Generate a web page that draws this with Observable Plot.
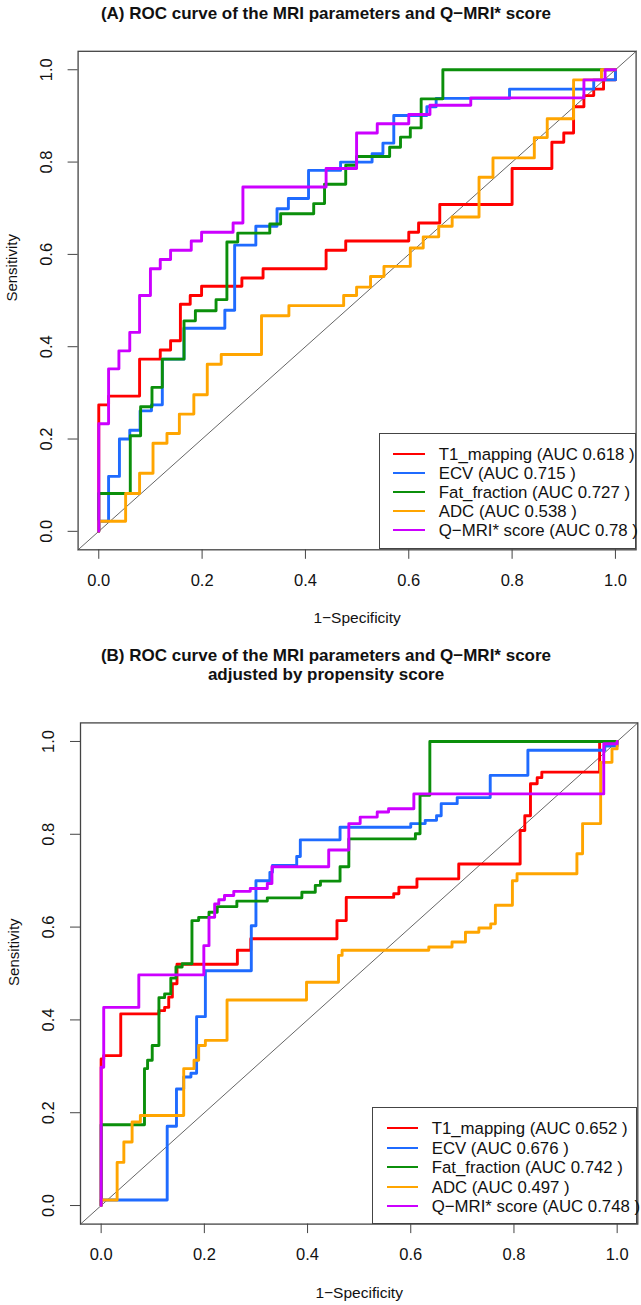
<!DOCTYPE html>
<html><head><meta charset="utf-8">
<script src="https://cdn.jsdelivr.net/npm/d3@7"></script>
<script src="https://cdn.jsdelivr.net/npm/@observablehq/plot@0.6"></script>
<style>
body{margin:0;background:#fff;font-family:"Liberation Sans",Arial,Helvetica,sans-serif;}
#page{position:relative;width:641px;height:1305px;overflow:hidden;background:#fff;}
.title{position:absolute;left:0;width:652px;text-align:center;font-weight:bold;font-size:17px;line-height:19px;color:#111;}
.panel{position:absolute;left:0;}
.legend{position:absolute;box-sizing:border-box;border:1.3px solid #444;background:#fff;font-size:16.8px;color:#111;}
.legend .row{position:absolute;left:0;height:19px;line-height:19px;white-space:nowrap;}
.legend .sw{position:absolute;top:8px;height:0;border-top:2.7px solid;}
.legend .tx{position:absolute;top:0;}
</style></head><body><div id="page"></div>
<script>
// ---------- data ----------
const seriesNames = ["T1_mapping", "ECV", "Fat_fraction", "ADC", "Q\u2212MRI* score"];
const seriesColors = ["#ff0000", "#1f6bff", "#0b8f0b", "#ffa500", "#cc00ff"];
const aucA = ["0.618", "0.715", "0.727", "0.538", "0.78"];
const aucB = ["0.652", "0.676", "0.742", "0.497", "0.748"];
const axisTicks = [0, 0.2, 0.4, 0.6, 0.8, 1.0];
const titleA = "(A) ROC curve of the MRI parameters and Q\u2212MRI* score";
const titleB1 = "(B) ROC curve of the MRI parameters and Q\u2212MRI* score";
const titleB2 = "adjusted by propensity score";
const xLabel = "1\u2212Specificity";
const yLabel = "Sensitivity";

// Panel A: (1-specificity, sensitivity) at the end of each step
const a_t1_x  = [0, 0.019, 0.079, 0.119, 0.139, 0.158, 0.177, 0.199, 0.277, 0.318, 0.44, 0.478, 0.6, 0.619, 0.66, 0.8, 0.877, 0.9, 0.919, 0.939, 0.958, 0.977, 1, 1];
const a_t1_y  = [0, 0.274, 0.293, 0.373, 0.393, 0.413, 0.492, 0.511, 0.531, 0.549, 0.569, 0.609, 0.629, 0.648, 0.668, 0.708, 0.786, 0.843, 0.863, 0.92, 0.944, 0.958, 0.978, 1];
const a_ecv_x = [0, 0.019, 0.04, 0.06, 0.08, 0.102, 0.123, 0.165, 0.244, 0.263, 0.304, 0.345, 0.367, 0.406, 0.468, 0.529, 0.55, 0.571, 0.635, 0.653, 0.795, 0.958, 1, 1];
const a_ecv_y = [0, 0.022, 0.119, 0.2, 0.219, 0.261, 0.274, 0.373, 0.44, 0.479, 0.62, 0.661, 0.699, 0.721, 0.782, 0.8, 0.818, 0.841, 0.901, 0.92, 0.938, 0.958, 0.978, 1];
const a_fat_x = [0, 0.061, 0.081, 0.103, 0.123, 0.165, 0.187, 0.227, 0.248, 0.269, 0.331, 0.352, 0.416, 0.437, 0.478, 0.499, 0.563, 0.584, 0.603, 0.624, 0.666, 1];
const a_fat_y = [0, 0.082, 0.207, 0.27, 0.312, 0.373, 0.456, 0.478, 0.502, 0.627, 0.646, 0.666, 0.688, 0.71, 0.752, 0.793, 0.812, 0.832, 0.854, 0.874, 0.937, 1];
const a_adc_x = [0, 0.052, 0.079, 0.105, 0.132, 0.156, 0.184, 0.21, 0.237, 0.315, 0.368, 0.474, 0.499, 0.526, 0.552, 0.603, 0.628, 0.658, 0.684, 0.736, 0.763, 0.843, 0.868, 0.919, 0.973, 1];
const a_adc_y = [0, 0.022, 0.082, 0.126, 0.191, 0.212, 0.254, 0.296, 0.362, 0.383, 0.467, 0.489, 0.511, 0.529, 0.552, 0.574, 0.614, 0.638, 0.661, 0.681, 0.767, 0.809, 0.853, 0.894, 0.978, 1];
const a_q_x   = [0, 0.019, 0.039, 0.06, 0.079, 0.1, 0.119, 0.139, 0.179, 0.199, 0.26, 0.279, 0.44, 0.499, 0.539, 0.6, 0.641, 0.72, 0.939, 0.98, 1];
const a_q_y   = [0, 0.233, 0.352, 0.391, 0.431, 0.511, 0.569, 0.589, 0.609, 0.629, 0.648, 0.668, 0.746, 0.786, 0.863, 0.883, 0.903, 0.923, 0.939, 0.978, 1];

// Panel B (propensity-adjusted)
const b_t1_x  = [0, 0.005, 0.038, 0.112, 0.123, 0.131, 0.138, 0.147, 0.264, 0.29, 0.457, 0.475, 0.567, 0.577, 0.612, 0.693, 0.812, 0.821, 0.832, 0.845, 0.854, 0.966, 1];
const b_t1_y  = [0, 0.316, 0.323, 0.413, 0.42, 0.427, 0.449, 0.478, 0.52, 0.55, 0.575, 0.614, 0.664, 0.672, 0.686, 0.704, 0.736, 0.808, 0.84, 0.909, 0.922, 0.934, 1];
const b_ecv_x = [0, 0.128, 0.146, 0.16, 0.174, 0.185, 0.202, 0.291, 0.3, 0.327, 0.332, 0.379, 0.386, 0.463, 0.6, 0.628, 0.65, 0.659, 0.69, 0.754, 0.827, 0.976, 1, 1];
const b_ecv_y = [0, 0.012, 0.171, 0.251, 0.277, 0.285, 0.407, 0.506, 0.603, 0.7, 0.718, 0.733, 0.752, 0.788, 0.815, 0.823, 0.83, 0.84, 0.866, 0.879, 0.927, 0.981, 0.99, 1];
const b_fat_x = [0, 0.084, 0.09, 0.099, 0.112, 0.123, 0.135, 0.145, 0.157, 0.176, 0.189, 0.209, 0.225, 0.263, 0.322, 0.389, 0.415, 0.425, 0.463, 0.48, 0.609, 0.618, 0.637, 1];
const b_fat_y = [0, 0.174, 0.295, 0.313, 0.345, 0.448, 0.456, 0.49, 0.514, 0.521, 0.614, 0.621, 0.632, 0.644, 0.656, 0.663, 0.675, 0.69, 0.699, 0.73, 0.79, 0.801, 0.884, 1];
const b_adc_x = [0, 0.031, 0.044, 0.06, 0.076, 0.16, 0.18, 0.189, 0.202, 0.244, 0.398, 0.46, 0.467, 0.635, 0.68, 0.706, 0.732, 0.755, 0.764, 0.797, 0.806, 0.922, 0.933, 0.968, 0.99, 1, 1];
const b_adc_y = [0, 0.012, 0.093, 0.137, 0.18, 0.194, 0.295, 0.313, 0.345, 0.356, 0.443, 0.481, 0.539, 0.55, 0.557, 0.568, 0.589, 0.598, 0.607, 0.647, 0.7, 0.715, 0.758, 0.823, 0.955, 0.984, 1];
const b_q_x   = [0, 0.005, 0.073, 0.199, 0.209, 0.22, 0.228, 0.239, 0.257, 0.289, 0.322, 0.331, 0.441, 0.48, 0.502, 0.535, 0.557, 0.606, 0.974, 1, 1];
const b_q_y   = [0, 0.298, 0.427, 0.497, 0.56, 0.621, 0.65, 0.659, 0.668, 0.677, 0.683, 0.694, 0.73, 0.766, 0.823, 0.837, 0.848, 0.855, 0.887, 0.995, 1];

// ---------- drawing ----------
const page = document.getElementById("page");
const fmt = d3.format(".1f");
const domain = [-0.04, 1.04];

function rows(xs, ys) { return xs.map((x, i) => ({x, y: ys[i]})); }

function panel(curves, o) {
  const svg = Plot.plot({
    width: 641, height: o.height,
    marginTop: o.mt, marginBottom: o.mb, marginLeft: o.ml, marginRight: o.mr,
    style: {fontFamily: "'Liberation Sans', Arial, sans-serif", background: "transparent", overflow: "visible", color: "#111"},
    x: {domain},
    y: {domain},
    marks: [
      Plot.line(domain.map(v => ({x: v, y: v})), {x: "x", y: "y", stroke: "#666", strokeWidth: 1}),
      ...curves.map((c, i) => Plot.line(rows(c[0], c[1]), {x: "x", y: "y", curve: "step-before", stroke: seriesColors[i], strokeWidth: 2.9})),
      Plot.frame({stroke: "#444", strokeWidth: 1.3}),
      Plot.axisX({ticks: axisTicks, tickSize: 9.5, tickPadding: 14.7, tickFormat: fmt, fontSize: 16.5, stroke: "#444", fill: "#111", label: null}),
      Plot.axisY({ticks: axisTicks, tickSize: 10, tickRotate: -90, tickPadding: 16.4, tickFormat: fmt, fontSize: 16.5, stroke: "#444", fill: "#111", label: null}),
      Plot.text([xLabel], {text: d => d, frameAnchor: "bottom", dy: o.xlabDy, lineAnchor: "middle", fontSize: 15.5, fill: "#111"}),
      Plot.text([yLabel], {text: d => d, frameAnchor: "left", dx: -66, dy: o.ylabDy, rotate: -90, lineAnchor: "middle", textAnchor: "middle", fontSize: 15, fill: "#111"})
    ]
  });
  svg.classList.add("panel");
  svg.style.top = o.top + "px";
  page.appendChild(svg);
}

function title(lines, top) {
  const d = document.createElement("div");
  d.className = "title";
  d.style.top = top + "px";
  lines.forEach((l, i) => { if (i) d.appendChild(document.createElement("br")); d.appendChild(document.createTextNode(l)); });
  page.appendChild(d);
}

function legend(aucs, g) {
  const box = document.createElement("div");
  box.className = "legend";
  Object.assign(box.style, {left: g.left + "px", top: g.top + "px", width: g.width + "px", height: g.height + "px"});
  seriesNames.forEach((name, i) => {
    const r = document.createElement("div");
    r.className = "row";
    r.style.top = (g.rowTop + i * g.rowGap) + "px";
    const sw = document.createElement("span");
    sw.className = "sw";
    Object.assign(sw.style, {left: g.swLeft + "px", width: g.swWidth + "px", borderTopColor: seriesColors[i]});
    const tx = document.createElement("span");
    tx.className = "tx";
    tx.style.left = g.txLeft + "px";
    tx.textContent = `${name} (AUC ${aucs[i]} )`;
    r.appendChild(sw); r.appendChild(tx);
    box.appendChild(r);
  });
  page.appendChild(box);
}

title([titleA], 3.5);
panel([[a_t1_x, a_t1_y], [a_ecv_x, a_ecv_y], [a_fat_x, a_fat_y], [a_adc_x, a_adc_y], [a_q_x, a_q_y]],
  {top: 0, height: 640, mt: 50.8, mb: 90.7, ml: 77.6, mr: 5.4, xlabDy: 68.7, ylabDy: -32.7});
legend(aucA, {left: 379.3, top: 433.3, width: 256.3, height: 116.2, rowTop: 10.5, rowGap: 19.1, swLeft: 12.5, swWidth: 32, txLeft: 58.5});

title([titleB1, titleB2], 645.5);
panel([[b_t1_x, b_t1_y], [b_ecv_x, b_ecv_y], [b_fat_x, b_fat_y], [b_adc_x, b_adc_y], [b_q_x, b_q_y]],
  {top: 640, height: 665, mt: 82.4, mb: 81.4, ml: 80, mr: 3.7, xlabDy: 69.4, ylabDy: -21.3});
legend(aucB, {left: 371.7, top: 1106.7, width: 265.6, height: 116.9, rowTop: 11.5, rowGap: 19.5, swLeft: 14, swWidth: 31, txLeft: 59});
</script></body></html>
